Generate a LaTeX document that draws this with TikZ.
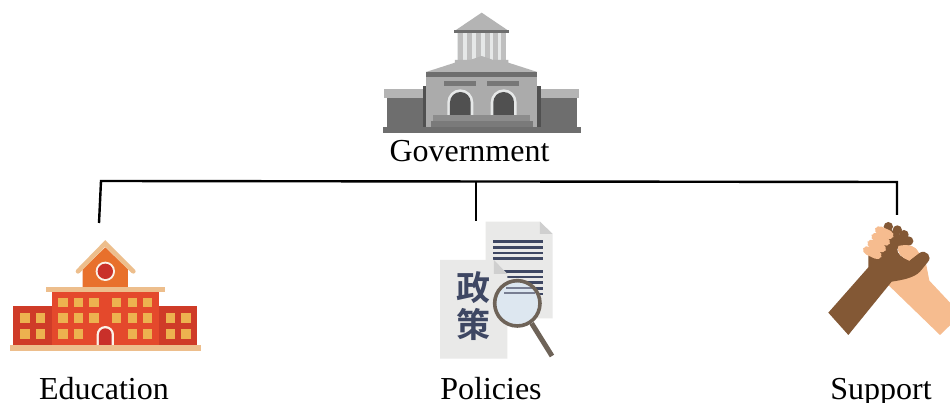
\documentclass[tikz,border=0pt]{standalone}
\usepackage{fontspec}
\setmainfont{Liberation Serif}
\newfontfamily\cjk{Noto Sans CJK SC}[BoldFont={* Bold}]
\definecolor{gA}{HTML}{B4B4B4}
\definecolor{gB}{HTML}{ABABAB}
\definecolor{gC}{HTML}{6E6E6E}
\definecolor{gD}{HTML}{505050}
\definecolor{gE}{HTML}{8C8C8C}
\definecolor{gF}{HTML}{E6E8E8}
\definecolor{gS}{HTML}{7A7A7A}
\definecolor{sRed}{HTML}{E4492C}
\definecolor{sDark}{HTML}{CF3B28}
\definecolor{sOr}{HTML}{E8702C}
\definecolor{sTan}{HTML}{EDBE8C}
\definecolor{sWin}{HTML}{EDB24F}
\definecolor{sDoor}{HTML}{C9302A}
\definecolor{pPage}{HTML}{E9E9E8}
\definecolor{pFold}{HTML}{CFCFCF}
\definecolor{pInk}{HTML}{3E4763}
\definecolor{pRim}{HTML}{6E6358}
\definecolor{pLens}{HTML}{DDE7F0}
\definecolor{hDark}{HTML}{835835}
\definecolor{hLight}{HTML}{F6BC8F}
\tikzset{
  lbl/.style={inner sep=0pt,font=\fontsize{32}{32}\selectfont,anchor=base},
  wire/.style={draw=black,line width=2.4pt},
  hanzi/.style={inner sep=0pt,text=pInk,font=\cjk\bfseries\fontsize{34}{34}\selectfont},
}
\begin{document}
\begin{tikzpicture}[x=1pt,y=-1pt]
\useasboundingbox (0,0) rectangle (950,403);
\fill[white] (0,0) rectangle (950,403);

% ---- Government building
\begin{scope}[shift={(370,0)},x=0.3333pt,y=-0.3333pt]
  \fill[gF] (262,98) rectangle (408,182);
  \foreach \c in {265,291,318,345,370,393} \fill[gA!85!white] (\c,98) rectangle +(14,84);
  \fill[gA] (255,92) -- (335,38) -- (415,92) -- cycle;
  \fill[gC] (252,90) rectangle (418,98);
  \fill[gA] (168,216) -- (255,188) -- (255,180) -- (300,180) -- (335,168) -- (370,180) -- (415,180) -- (415,188) -- (502,216) -- cycle;
  \fill[gB] (168,216) rectangle (502,384);
  \fill[gC] (168,216) rectangle (502,232);
  \foreach \d in {222,352} \fill[gE!85!black] (\d,242) rectangle +(96,16);
  \foreach \d in {232,362}{
    \fill[gF] (\d,348) -- (\d,307) arc[start angle=180,end angle=360,radius=39] -- (\d+78,348) -- cycle;
    \fill[gD] (\d+8,348) -- (\d+8,307) arc[start angle=180,end angle=360,radius=31] -- (\d+70,348) -- cycle;
  }
  \fill[gE] (190,345) rectangle (480,362);
  \fill[gS] (182,362) rectangle (490,384);
  \fill[gC] (50,295) rectangle (160,384);
  \fill[gC] (510,295) rectangle (622,384);
  \fill[gA] (42,266) rectangle (160,295);
  \fill[gA] (510,266) rectangle (628,295);
  \fill[gD] (158,258) rectangle (168,384);
  \fill[gD] (502,258) rectangle (512,384);
  \fill[gC] (40,382) rectangle (632,398);
\end{scope}
\node[lbl] (gov) at (469.5,162) {Government};

% ---- School
\begin{scope}[shift={(0,230)},x=0.3333pt,y=-0.3333pt]
  \fill[sOr] (248,172) -- (248,118) -- (316,52) -- (384,118) -- (384,172) -- cycle;
  \draw[sTan,line width=4.6pt,line cap=round,line join=miter] (234,124) -- (316,40) -- (400,124);
  \fill[white!80!sTan] (316,124) circle (29);
  \fill[sDoor] (316,124) circle (23);
  \fill[sDark] (40,228) rectangle (592,346);
  \fill[sRed] (155,186) rectangle (477,346);
  \fill[sTan] (138,172) rectangle (496,187);
  \foreach \c in {189,235,282,350,397,443}{
    \foreach \r in {217,264} \fill[sWin] (\c-14,\r-14) rectangle (\c+14,\r+14);
  }
  \foreach \c in {189,235,397,443} \fill[sWin] (\c-14,298) rectangle (\c+14,326);
  \foreach \c in {75,122,512,558}{
    \foreach \r in {264,312} \fill[sWin] (\c-14,\r-14) rectangle (\c+14,\r+14);
  }
  \fill[white!80!sTan] (290,346) -- (290,314) arc[start angle=180,end angle=360,radius=26] -- (342,346) -- cycle;
  \fill[sDoor] (297,346) -- (297,314) arc[start angle=180,end angle=360,radius=19] -- (335,346) -- cycle;
  \fill[sTan] (30,346) rectangle (603,362);
\end{scope}
\node[lbl] (edu) at (104,399) {Education};

% ---- Policy documents
\begin{scope}[shift={(430,210)},x=0.3333pt,y=-0.3333pt]
  \fill[pPage] (167,35) -- (330,35) -- (368,72) -- (368,325) -- (167,325) -- cycle;
  \fill[pFold] (330,35) -- (368,72) -- (330,72) -- cycle;
  \foreach \r in {90,108,125,142,180,197,214,231,248} \fill[pInk] (190,\r) rectangle (338,\r+8);
  \fill[pPage] (30,150) -- (192,150) -- (232,192) -- (232,446) -- (30,446) -- cycle;
  \fill[pFold] (192,150) -- (232,192) -- (192,192) -- cycle;
  \draw[pRim,line width=5pt] (305,340) -- (366,438);
  \fill[pLens] (262,280) circle (68);
  \fill[pInk!70!white] (228,231) rectangle (312,236);
  \fill[pInk!70!white] (222,246) rectangle (316,251);
  \draw[pRim,line width=3.6pt] (262,280) circle (68);
  \node[hanzi] (zheng) at (130,232) {政};
  \node[hanzi] (ce) at (130,342) {策};
\end{scope}
\node[lbl] (pol) at (491,399) {Policies};

% ---- Clasped hands
\begin{scope}[shift={(820,210)},x=0.3333pt,y=-0.3333pt]
  \fill[hLight] (205,225) -- (262,130) -- (240,108) .. controls (260,102) and (285,105) .. (296,128) -- (318,160) -- (328,212) -- (390,278) -- (390,346) -- (360,375) -- cycle;
  \fill[hDark] (25,308) -- (145,172) -- (145,125) -- (195,50) -- (280,95)
    -- (262,108) -- (232,116) .. controls (230,132) and (245,142) .. (268,152)
    -- (300,128) .. controls (318,118) and (340,140) .. (322,158)
    -- (300,185) .. controls (280,205) and (245,210) .. (215,215)
    -- (85,375) -- cycle;
  \foreach \a/\b in {205/50,232/60,252/74,266/93} \fill[hDark] (\a,\b) circle (14);
  \fill[hLight] (235,108) .. controls (260,102) and (285,105) .. (296,128) -- (268,152) .. controls (245,142) and (230,132) .. cycle;
  \foreach \a/\b in {193/68,182/88,170/108,157/128}
    \fill[hLight,rounded corners=5pt,rotate around={-25:(\a,\b)}] (\a-30,\b-13) rectangle (\a+30,\b+13);
\end{scope}
\node[lbl] (sup) at (881,399) {Support};

% ---- Connectors
\coordinate (tl) at (101,181);
\coordinate (tm) at (476,181);
\coordinate (tr) at (897,182);
\coordinate (dl) at (99,223);
\coordinate (dm) at (476,221);
\coordinate (dr) at (897,215);
\draw[wire,line join=miter] (dl) -- (tl) -- (tr) -- (dr);
\draw[wire] (tm) -- (dm);
\end{tikzpicture}
\end{document}
